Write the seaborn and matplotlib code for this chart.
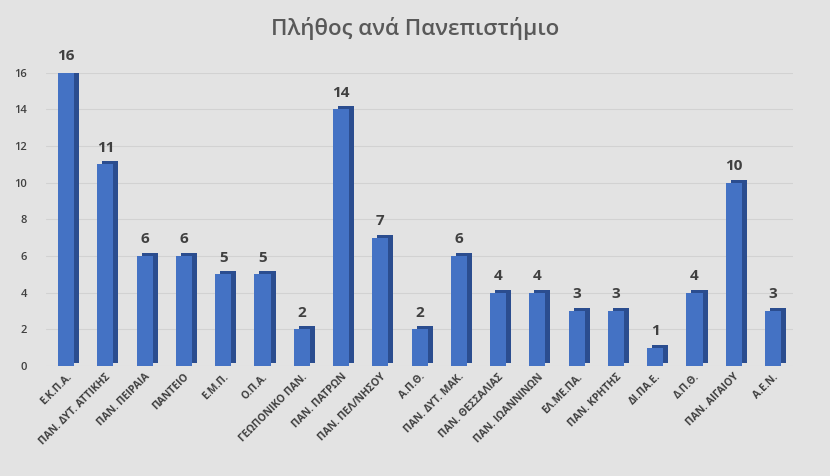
import matplotlib
matplotlib.use("Agg")
import matplotlib.pyplot as plt
import matplotlib.patheffects as pe
import seaborn as sns
import pandas as pd

# Δεδομένα
panepistimia = ["Ε.Κ.Π.Α.", "ΠΑΝ. ΔΥΤ. ΑΤΤΙΚΗΣ", "ΠΑΝ. ΠΕΙΡΑΙΑ", "ΠΑΝΤΕΙΟ", "Ε.Μ.Π.",
                "Ο.Π.Α.", "ΓΕΩΠΟΝΙΚΟ ΠΑΝ.", "ΠΑΝ. ΠΑΤΡΩΝ", "ΠΑΝ. ΠΕΛ/ΝΗΣΟΥ", "Α.Π.Θ.",
                "ΠΑΝ. ΔΥΤ. ΜΑΚ.", "ΠΑΝ. ΘΕΣΣΑΛΙΑΣ", "ΠΑΝ. ΙΩΑΝΝΙΝΩΝ", "ΕΛ.ΜΕ.ΠΑ.",
                "ΠΑΝ. ΚΡΗΤΗΣ", "ΔΙ.ΠΑ.Ε.", "Δ.Π.Θ.", "ΠΑΝ. ΑΙΓΑΙΟΥ", "Α.Ε.Ν."]
plithos = [16, 11, 6, 6, 5, 5, 2, 14, 7, 2, 6, 4, 4, 3, 3, 1, 4, 10, 3]
y_ticks = [0, 2, 4, 6, 8, 10, 12, 14, 16]

df = pd.DataFrame({"uni": panepistimia, "n": plithos})

sns.set_style("white")
plt.rcParams["font.family"] = ["Open Sans", "DejaVu Sans"]

fig = plt.figure(figsize=(8.3, 4.76), dpi=100)
fig.patch.set_facecolor("#e3e3e3")
ax = fig.add_axes([0.056, 0.231, 0.899, 0.616])
ax.set_facecolor("none")

sns.barplot(data=df, x="uni", y="n", color="#4472c4", saturation=1, width=0.41,
            linewidth=0, edgecolor="none", ax=ax)

# 3D look: dark offset "side" behind each bar
for p in ax.patches:
    p.set_path_effects([pe.SimplePatchShadow(offset=(3.6, 2.2), shadow_rgbFace="#2b4d8f", alpha=1),
                        pe.Normal()])

for c in ax.containers:
    ax.bar_label(c, padding=7, fontsize=11, fontweight="bold", color="#404040")

ax.set_ylim(0, 16)
ax.set_xlim(-0.5, len(panepistimia) - 0.5)
ax.set_yticks(y_ticks)
ax.yaxis.grid(True, color="#d2d2d2", linewidth=0.8)
ax.set_axisbelow(True)
ax.set_xlabel("")
ax.set_ylabel("")
ax.tick_params(axis="y", labelsize=8, colors="#404040", length=0, pad=14)
ax.tick_params(axis="x", length=0, pad=4)
plt.setp(ax.get_xticklabels(), rotation=45, ha="right", rotation_mode="anchor",
         fontsize=7.5, fontweight="bold", color="#404040")
plt.setp(ax.get_yticklabels(), fontweight="semibold")
sns.despine(ax=ax, left=True, bottom=True)

fig.suptitle("Πλήθος ανά Πανεπιστήμιο", y=0.965, fontsize=16, fontweight="semibold", color="#595959")

fig.savefig("out.png", dpi=100, facecolor=fig.get_facecolor())
